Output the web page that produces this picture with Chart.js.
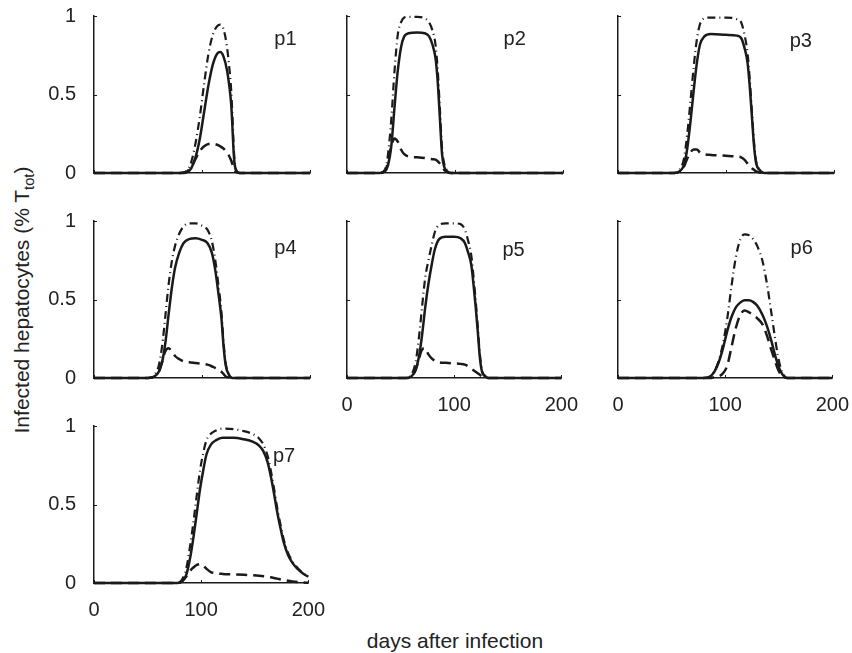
<!DOCTYPE html>
<html>
<head>
<meta charset="utf-8">
<script src="https://cdn.jsdelivr.net/npm/chart.js@4.4.0/dist/chart.umd.min.js"></script>
<style>
    html, body { margin: 0; padding: 0; background: #fff; overflow: hidden; }
    #figure { position: relative; width: 852px; height: 653px; overflow: hidden; }
    #figure canvas { position: absolute; }
    .axis-title {
        position: absolute;
        font-family: 'Liberation Sans', Arial, sans-serif;
        font-size: 21px;
        line-height: 24px;
        color: #222;
        white-space: nowrap;
    }
    .axis-title sub { font-size: 70%; line-height: 0; }
    #ytitle { left: 22px; top: 300px; transform: translate(-50%, -50%) rotate(-90deg); }
    #xtitle { left: 455px; top: 641px; transform: translate(-50%, -50%); }
</style>
</head>
<body>
<div id="figure">
    <div class="axis-title" id="ytitle">Infected hepatocytes (% T<sub>tot</sub>)</div>
    <div class="axis-title" id="xtitle">days after infection</div>
</div>
<script>
// Days after infection and infected fraction for each patient p1..p7
// solid = first population, dashed = second population, dash-dot = both together
const p1Days    = [0, 80, 86, 90, 94, 98, 102, 106, 110, 114, 117, 120, 123, 125, 127, 128, 129, 130, 132, 135, 200];
const p1Solid   = [0, 0, 0.005, 0.03, 0.1, 0.22, 0.39, 0.56, 0.69, 0.76, 0.77, 0.74, 0.66, 0.57, 0.44, 0.32, 0.17, 0.07, 0.01, 0, 0];
const p1Dashed  = [0, 0, 0.01, 0.04, 0.09, 0.14, 0.17, 0.185, 0.185, 0.18, 0.17, 0.155, 0.13, 0.11, 0.08, 0.06, 0.04, 0.02, 0.005, 0, 0];
const p1DashDot = [0, 0, 0.015, 0.07, 0.19, 0.36, 0.57, 0.76, 0.88, 0.935, 0.945, 0.915, 0.81, 0.69, 0.53, 0.39, 0.22, 0.09, 0.015, 0, 0];

const p2Days    = [0, 30, 35, 38, 41, 44, 47, 50, 53, 57, 65, 72, 76, 79, 82, 84, 86, 88, 90, 93, 96, 200];
const p2Solid   = [0, 0, 0.01, 0.05, 0.17, 0.42, 0.65, 0.8, 0.87, 0.89, 0.895, 0.89, 0.87, 0.82, 0.73, 0.58, 0.35, 0.12, 0.04, 0.01, 0, 0];
const p2Dashed  = [0, 0, 0.01, 0.07, 0.17, 0.22, 0.2, 0.15, 0.12, 0.105, 0.1, 0.095, 0.09, 0.088, 0.085, 0.075, 0.06, 0.04, 0.02, 0.005, 0, 0];
const p2DashDot = [0, 0, 0.02, 0.12, 0.34, 0.65, 0.88, 0.96, 0.99, 0.995, 0.995, 0.985, 0.96, 0.91, 0.815, 0.655, 0.41, 0.16, 0.06, 0.015, 0, 0];

const p3Days    = [0, 52, 57, 61, 64, 67, 70, 73, 76, 80, 86, 100, 110, 114, 117, 120, 122, 124, 126, 128, 131, 135, 200];
const p3Solid   = [0, 0, 0.01, 0.05, 0.15, 0.32, 0.52, 0.7, 0.82, 0.87, 0.885, 0.88, 0.875, 0.86, 0.8, 0.7, 0.55, 0.36, 0.17, 0.06, 0.02, 0, 0];
const p3Dashed  = [0, 0, 0.01, 0.04, 0.09, 0.13, 0.15, 0.15, 0.13, 0.12, 0.115, 0.11, 0.105, 0.1, 0.085, 0.06, 0.045, 0.03, 0.02, 0.01, 0.003, 0, 0];
const p3DashDot = [0, 0, 0.02, 0.09, 0.24, 0.45, 0.67, 0.85, 0.95, 0.985, 0.99, 0.99, 0.98, 0.96, 0.885, 0.76, 0.595, 0.39, 0.19, 0.07, 0.023, 0, 0];

const p4Days    = [0, 50, 56, 60, 63, 66, 69, 72, 75, 79, 83, 88, 94, 100, 105, 109, 112, 115, 118, 120, 122, 125, 128, 200];
const p4Solid   = [0, 0, 0.01, 0.04, 0.1, 0.22, 0.4, 0.57, 0.7, 0.8, 0.86, 0.885, 0.89, 0.88, 0.86, 0.8, 0.7, 0.55, 0.38, 0.2, 0.08, 0.02, 0, 0];
const p4Dashed  = [0, 0, 0.01, 0.04, 0.1, 0.17, 0.19, 0.17, 0.14, 0.12, 0.105, 0.1, 0.095, 0.09, 0.085, 0.075, 0.065, 0.055, 0.04, 0.025, 0.01, 0.003, 0, 0];
const p4DashDot = [0, 0, 0.02, 0.08, 0.2, 0.39, 0.59, 0.74, 0.84, 0.92, 0.965, 0.985, 0.985, 0.97, 0.945, 0.875, 0.765, 0.605, 0.42, 0.225, 0.09, 0.023, 0, 0];

const p5Days    = [0, 55, 60, 64, 67, 70, 73, 76, 79, 82, 86, 92, 100, 106, 110, 113, 116, 118, 120, 122, 124, 126, 129, 132, 200];
const p5Solid   = [0, 0, 0.01, 0.05, 0.13, 0.27, 0.45, 0.6, 0.72, 0.82, 0.885, 0.9, 0.9, 0.89, 0.86, 0.8, 0.72, 0.6, 0.46, 0.3, 0.13, 0.04, 0.01, 0, 0];
const p5Dashed  = [0, 0, 0.01, 0.05, 0.12, 0.18, 0.19, 0.15, 0.125, 0.11, 0.1, 0.097, 0.093, 0.09, 0.085, 0.075, 0.06, 0.05, 0.04, 0.03, 0.02, 0.01, 0.003, 0, 0];
const p5DashDot = [0, 0, 0.02, 0.1, 0.25, 0.45, 0.64, 0.75, 0.845, 0.93, 0.975, 0.985, 0.985, 0.98, 0.945, 0.875, 0.78, 0.65, 0.5, 0.33, 0.15, 0.05, 0.013, 0, 0];

const p6Days    = [0, 80, 86, 90, 94, 98, 102, 106, 110, 114, 118, 122, 126, 130, 135, 139, 143, 146, 149, 152, 155, 158, 200];
const p6Solid   = [0, 0, 0.01, 0.04, 0.1, 0.19, 0.3, 0.39, 0.45, 0.48, 0.495, 0.495, 0.485, 0.46, 0.4, 0.33, 0.24, 0.16, 0.09, 0.04, 0.01, 0, 0];
const p6Dashed  = [0, 0, 0, 0.005, 0.01, 0.03, 0.08, 0.2, 0.32, 0.4, 0.43, 0.42, 0.4, 0.38, 0.34, 0.27, 0.18, 0.12, 0.06, 0.02, 0.005, 0, 0];
const p6DashDot = [0, 0, 0.01, 0.045, 0.11, 0.22, 0.38, 0.59, 0.77, 0.88, 0.915, 0.91, 0.885, 0.84, 0.74, 0.6, 0.42, 0.28, 0.15, 0.06, 0.015, 0, 0];

const p7Days    = [0, 78, 82, 86, 90, 93, 96, 99, 102, 105, 109, 114, 120, 130, 140, 148, 154, 158, 162, 165, 168, 171, 174, 177, 181, 185, 190, 195, 200];
const p7Solid   = [0, 0, 0.01, 0.05, 0.17, 0.3, 0.45, 0.6, 0.72, 0.82, 0.88, 0.91, 0.925, 0.925, 0.915, 0.9, 0.875, 0.84, 0.77, 0.68, 0.57, 0.45, 0.35, 0.26, 0.18, 0.13, 0.09, 0.06, 0.04];
const p7Dashed  = [0, 0, 0.01, 0.04, 0.08, 0.1, 0.115, 0.12, 0.11, 0.09, 0.07, 0.062, 0.058, 0.055, 0.052, 0.049, 0.046, 0.043, 0.04, 0.036, 0.032, 0.028, 0.023, 0.019, 0.014, 0.01, 0.006, 0.003, 0.001];
const p7DashDot = [0, 0, 0.02, 0.09, 0.25, 0.4, 0.565, 0.72, 0.83, 0.91, 0.95, 0.972, 0.983, 0.98, 0.967, 0.949, 0.921, 0.883, 0.81, 0.716, 0.602, 0.478, 0.373, 0.279, 0.194, 0.14, 0.096, 0.063, 0.041];

// Axis ticks
const xTicks = [0, 100, 200];
const yTicks = [0, 0.5, 1];

// Grid layout (pixels); padT must cover half a label plus the tick padding
const colLeft = [94, 347, 618];
const rowTop = [16, 221, 426];
const plotW = 216, plotH = 157;
const padL = 70, padT = 36, padR = 30, padB = 45;

const FONT = "'Liberation Sans', Arial, sans-serif";
const INK = '#1a1a1a';

const panels = [
    { name: 'p1', col: 0, row: 0, days: p1Days, solid: p1Solid, dashed: p1Dashed, dashDot: p1DashDot, yLabels: true,  xLabels: false, tag: [167, 0.815] },
    { name: 'p2', col: 1, row: 0, days: p2Days, solid: p2Solid, dashed: p2Dashed, dashDot: p2DashDot, yLabels: false, xLabels: false, tag: [145, 0.815] },
    { name: 'p3', col: 2, row: 0, days: p3Days, solid: p3Solid, dashed: p3Dashed, dashDot: p3DashDot, yLabels: false, xLabels: false, tag: [159, 0.805] },
    { name: 'p4', col: 0, row: 1, days: p4Days, solid: p4Solid, dashed: p4Dashed, dashDot: p4DashDot, yLabels: true,  xLabels: false, tag: [167, 0.79] },
    { name: 'p5', col: 1, row: 1, days: p5Days, solid: p5Solid, dashed: p5Dashed, dashDot: p5DashDot, yLabels: false, xLabels: true,  tag: [145, 0.78] },
    { name: 'p6', col: 2, row: 1, days: p6Days, solid: p6Solid, dashed: p6Dashed, dashDot: p6DashDot, yLabels: false, xLabels: true,  tag: [161, 0.79] },
    { name: 'p7', col: 0, row: 2, days: p7Days, solid: p7Solid, dashed: p7Dashed, dashDot: p7DashDot, yLabels: true,  xLabels: true,  tag: [167, 0.77] }
];

// Short inward tick marks on both axes
const innerTicks = {
    id: 'innerTicks',
    afterDraw(chart) {
        const { ctx, scales: { x, y }, chartArea } = chart;
        ctx.save();
        ctx.strokeStyle = INK;
        ctx.lineWidth = 1;
        ctx.beginPath();
        yTicks.forEach(v => {
            const py = Math.round(y.getPixelForValue(v)) + 0.5;
            ctx.moveTo(chartArea.left, py);
            ctx.lineTo(chartArea.left + 3, py);
        });
        xTicks.forEach(v => {
            const px = Math.round(x.getPixelForValue(v)) + 0.5;
            ctx.moveTo(px, chartArea.bottom);
            ctx.lineTo(px, chartArea.bottom - 3);
        });
        ctx.stroke();
        ctx.restore();
    }
};

// Panel name written inside the plot area
const panelTag = {
    id: 'panelTag',
    afterDraw(chart, args, opts) {
        const { ctx, scales: { x, y } } = chart;
        ctx.save();
        ctx.font = '20px ' + FONT;
        ctx.fillStyle = '#222';
        ctx.textAlign = 'left';
        ctx.textBaseline = 'alphabetic';
        ctx.fillText(opts.text, x.getPixelForValue(opts.day), y.getPixelForValue(opts.value));
        ctx.restore();
    }
};

function points(days, values) {
    return days.map((d, i) => ({ x: d, y: values[i] }));
}

function lineSet(data, width, dash) {
    return {
        data: data,
        borderColor: INK,
        borderWidth: width,
        borderDash: dash,
        pointRadius: 0,
        cubicInterpolationMode: 'monotone',
        fill: false,
        clip: false
    };
}

const figure = document.getElementById('figure');

panels.forEach(p => {
    const canvas = document.createElement('canvas');
    const w = padL + plotW + padR;
    const h = padT + plotH + padB;
    canvas.width = w;
    canvas.height = h;
    canvas.style.left = (colLeft[p.col] - padL) + 'px';
    canvas.style.top = (rowTop[p.row] - padT) + 'px';
    canvas.style.width = w + 'px';
    canvas.style.height = h + 'px';
    figure.appendChild(canvas);

    new Chart(canvas, {
        type: 'line',
        data: {
            datasets: [
                lineSet(points(p.days, p.solid), 2.5, []),
                lineSet(points(p.days, p.dashed), 2.5, [11, 6]),
                lineSet(points(p.days, p.dashDot), 2.2, [8, 4, 1, 4])
            ]
        },
        options: {
            responsive: false,
            animation: false,
            layout: { padding: { left: 0, top: padT, right: padR, bottom: 0 } },
            plugins: {
                legend: { display: false },
                tooltip: { enabled: false },
                panelTag: { text: p.name, day: p.tag[0], value: p.tag[1] }
            },
            scales: {
                x: {
                    type: 'linear',
                    min: 0,
                    max: 200,
                    grid: { display: false, drawTicks: false },
                    border: { color: INK, width: 1.5 },
                    afterBuildTicks: s => { s.ticks = xTicks.map(v => ({ value: v })); },
                    afterFit: s => { s.height = padB; },
                    ticks: {
                        display: p.xLabels,
                        padding: 15,
                        maxRotation: 0,
                        color: '#222',
                        font: { family: FONT, size: 20 }
                    }
                },
                y: {
                    type: 'linear',
                    min: 0,
                    max: 1,
                    grid: { display: false, drawTicks: false },
                    border: { color: INK, width: 1.5 },
                    afterBuildTicks: s => { s.ticks = yTicks.map(v => ({ value: v })); },
                    afterFit: s => { s.width = padL; },
                    ticks: {
                        display: p.yLabels,
                        padding: 18,
                        color: '#222',
                        font: { family: FONT, size: 20 },
                        callback: v => String(v)
                    }
                }
            }
        },
        plugins: [innerTicks, panelTag]
    });
});
</script>
</body>
</html>
